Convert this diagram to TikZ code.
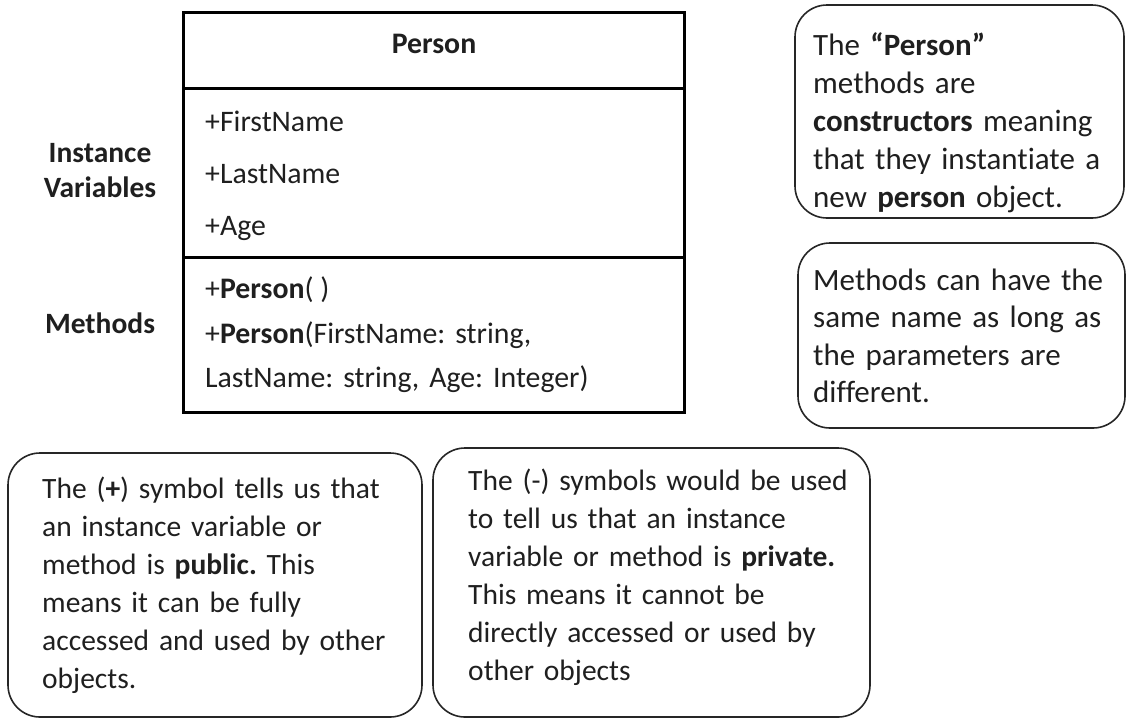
\documentclass[tikz,border=0pt]{standalone}
\usepackage{fontspec}
\setmainfont{Carlito}[Ligatures=NoCommon]
\frenchspacing
\begin{document}
\begin{tikzpicture}[x=1pt,y=-1pt,
  classframe/.style={line width=3pt},
  note/.style={draw=black!85, line width=1.6pt, rounded corners=32pt},
  para/.style={inner sep=0pt, anchor=base west, align=left, text width=480pt,
    text=black!88, font=\fontsize{29.5}{38}\selectfont},
  member/.style={inner sep=0pt, anchor=base west, text=black!88,
    font=\fontsize{29.8}{36}\selectfont},
  sidelabel/.style={inner sep=0pt, anchor=base, align=center, text width=170pt,
    text=black!88, font=\bfseries\fontsize{29.5}{35}\selectfont}]
\useasboundingbox (0,0) rectangle (1126,718);

% class box
\draw[classframe] (183,12) rectangle (684,412);
\draw[classframe] (183,88) -- (684,88);
\draw[classframe] (183,257) -- (684,257);
\node[member, anchor=base] (cls) at (434,53) {\textbf{Person}};
\node[member] (fn) at (205,131) {+FirstName};
\node[member] (ln) at (205,183) {+LastName};
\node[member] (age) at (205,235) {+Age};
\node[member] (ctor0) at (205,298) {+\textbf{Person}( )};
\node[member, align=left, text width=470pt, font=\fontsize{29.8}{44}\selectfont]
  (ctor3) at (205,343) {+\textbf{Person}(FirstName: string,\\LastName: string, Age: Integer)};

% labels beside the class box
\node[sidelabel] (ivars) at (100,162) {Instance\\Variables};
\node[sidelabel] (meths) at (100,333) {Methods};

% explanatory notes
\draw[note] (795,5) rectangle (1124,218);
\node[para, font=\fontsize{31}{38}\selectfont] (ctornote) at (813,55)
  {The \textbf{“Person”}\\methods are\\\textbf{constructors} meaning\\that they instantiate a\\new \textbf{person} object.};

\draw[note] (798,243) rectangle (1125,428);
\node[para, font=\fontsize{31}{37.5}\selectfont] (overload) at (813,290)
  {Methods can have the\\same name as long as\\the parameters are\\different.};

\draw[note] (8,453) rectangle (422,717);
\node[para] (public) at (42,498)
  {The (\textbf{+}) symbol tells us that\\an instance variable or\\method is \textbf{public.} This\\means it can be fully\\accessed and used by other\\objects.};

\draw[note] (433,448) rectangle (870,717);
\node[para] (private) at (468,490)
  {The (-) symbols would be used\\to tell us that an instance\\variable or method is \textbf{private.}\\This means it cannot be\\directly accessed or used by\\other objects};
\end{tikzpicture}
\end{document}
